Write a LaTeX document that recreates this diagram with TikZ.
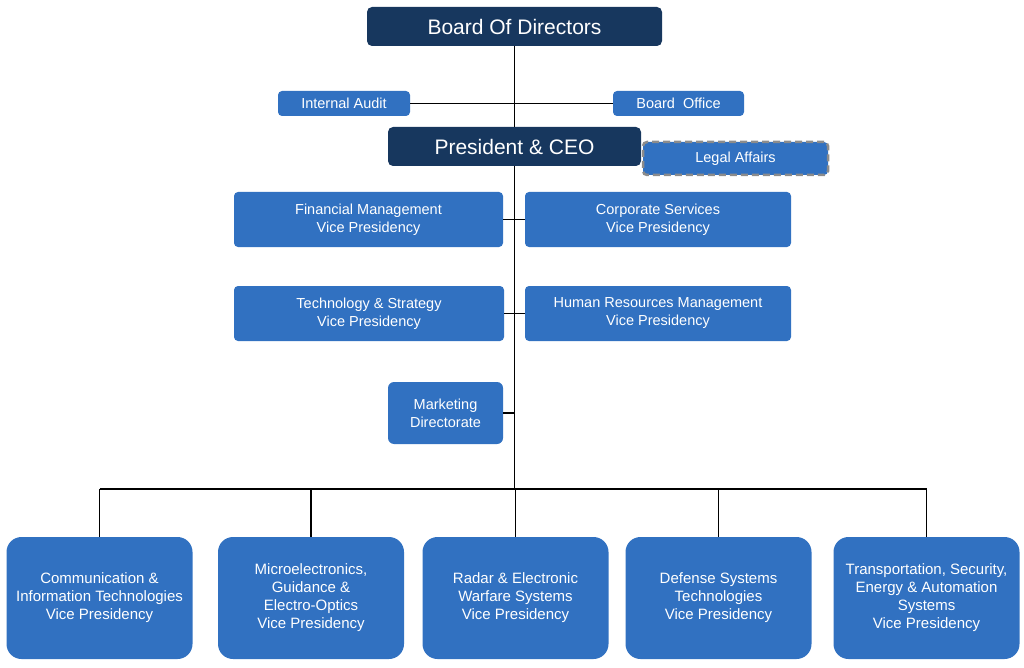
\documentclass[tikz,border=0pt]{standalone}
\usepackage{fontspec}
\setmainfont{Liberation Sans}
\definecolor{navy}{RGB}{23,55,94}
\definecolor{unitblue}{RGB}{49,113,193}
\definecolor{legalgray}{RGB}{140,140,140}
\tikzset{
  headbox/.style={fill=navy, text=white, rounded corners=5pt, inner sep=0pt, font=\fontsize{21}{24}\selectfont},
  unitbox/.style={fill=unitblue, text=white, rounded corners=4pt, inner sep=0pt, align=center, font=\fontsize{14.5}{18}\selectfont},
  vpbox/.style={fill=unitblue, text=white, rounded corners=15pt, inner sep=0pt, align=center, minimum width=186pt, minimum height=122pt, font=\fontsize{15}{18}\selectfont},
  link/.style={line width=1.4pt, black}
}

\begin{document}
\begin{tikzpicture}[x=1pt, y=-1pt]
      \useasboundingbox (0,0) rectangle (1024,668);
      \node[headbox, minimum width=295pt, minimum height=39pt] (board) at (514.5,26.5) {Board Of Directors};
      \node[unitbox, minimum width=132pt, minimum height=25pt] (audit) at (344,103.5) {Internal Audit};
      \node[unitbox, minimum width=131pt, minimum height=25pt] (office) at (678.5,103.5) {Board\ \ Office};
      \node[headbox, minimum width=253pt, minimum height=39pt] (ceo) at (514.5,146.5) {President \& CEO};
      \node[unitbox, minimum width=185pt, minimum height=33pt, draw=legalgray, line width=2.5pt, dash pattern=on 7pt off 4pt] (legal) at (735.5,158.5) {Legal Affairs};
      \node[unitbox, minimum width=269pt, minimum height=55pt] (fin) at (368.5,219.5) {Financial Management\\Vice Presidency};
      \node[unitbox, minimum width=266pt, minimum height=55pt] (corp) at (658,219.5) {Corporate Services\\Vice Presidency};
      \node[unitbox, minimum width=270pt, minimum height=55pt] (tech) at (369,313.5) {Technology \& Strategy\\Vice Presidency};
      \node[unitbox, minimum width=266pt, minimum height=55pt] (hr) at (658,313.5) {Human Resources Management\\Vice Presidency};
      \node[unitbox, rounded corners=6pt, minimum width=115pt, minimum height=62pt] (mkt) at (445.5,413) {Marketing\\Directorate};
      \node[vpbox] (comm) at (99.5,598) {Communication \&\\Information Technologies\\Vice Presidency};
      \node[vpbox] (micro) at (311,598) {Microelectronics,\\Guidance \&\\Electro-Optics\\Vice Presidency};
      \node[vpbox] (radar) at (515.5,598) {Radar \& Electronic\\Warfare Systems\\Vice Presidency};
      \node[vpbox] (defense) at (718.5,598) {Defense Systems\\Technologies\\Vice Presidency};
      \node[vpbox] (transport) at (926.5,598) {Transportation, Security,\\Energy \& Automation\\Systems\\Vice Presidency};
      \coordinate (bus) at (514.5,489);
      \draw[link] (board) -- (ceo);
      \draw[link] (audit) -- (office);
      \draw[link] (ceo) -- (bus);
      \draw[link] (fin) -- (corp);
      \draw[link] (tech) -- (hr);
      \draw[link] (mkt.east) -- (mkt.east -| ceo.south);
      \draw[link] (comm.north |- bus) -- (transport.north |- bus);
      \foreach \u in {comm,micro,radar,defense,transport}
        \draw[link] (\u.north |- bus) -- (\u.north);
\end{tikzpicture}
\end{document}
